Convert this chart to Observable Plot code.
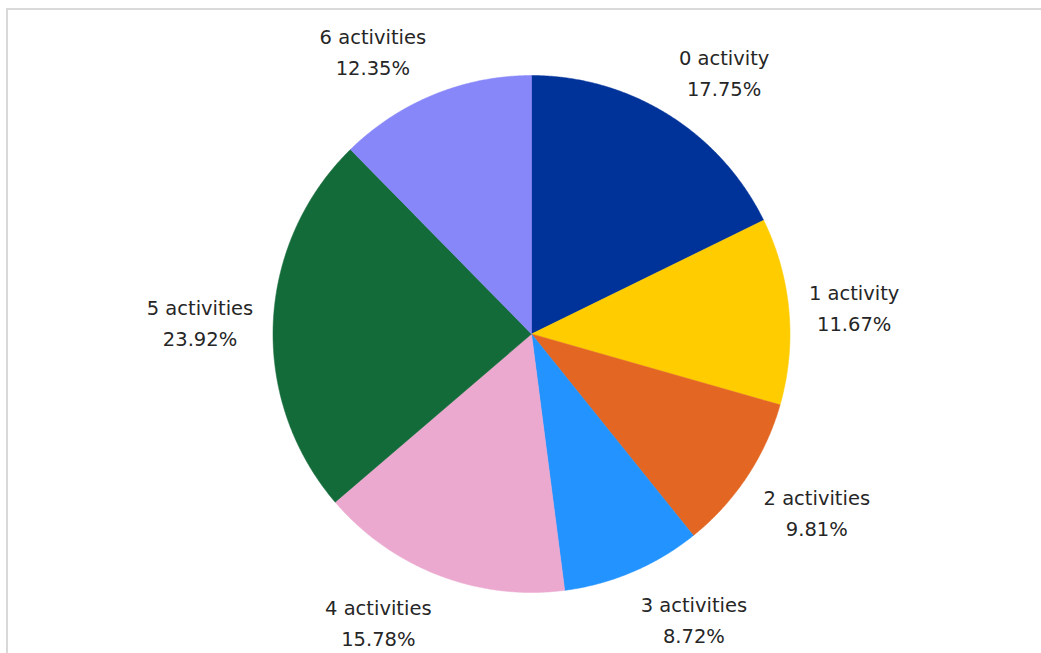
<!DOCTYPE html>
<html>
<head>
<meta charset="utf-8">
<script src="https://cdn.jsdelivr.net/npm/d3@7"></script>
<script src="https://cdn.jsdelivr.net/npm/@observablehq/plot@0.6"></script>
<style>
  html, body { margin: 0; padding: 0; background: #fff; }
  #wrap { position: relative; width: 1041px; height: 653px; overflow: hidden; }
  #frame { position: absolute; left: 6px; top: 8px; width: 1100px; height: 700px;
           border-left: 2px solid #d9d9d9; border-top: 2px solid #d9d9d9; box-sizing: border-box; }
  #chart { position: absolute; left: 0; top: 0; }
</style>
</head>
<body>
<div id="wrap"><div id="frame"></div><div id="chart"></div></div>
<script>
const categories = ["0 activity", "1 activity", "2 activities", "3 activities", "4 activities", "5 activities", "6 activities"];
const values = [17.75, 11.67, 9.81, 8.72, 15.78, 23.92, 12.35];
const labels = ["17.75%", "11.67%", "9.81%", "8.72%", "15.78%", "23.92%", "12.35%"];
const colors = ["#003399", "#FFCC00", "#E36622", "#2293FF", "#EBA9CF", "#146B3A", "#8787F9"];

const FS = 19.5;
const FAMILY = "'DejaVu Sans', sans-serif";
const W = 1041, H = 653;
const cx = 531, cy = 333.5, R = 258.5;

// slices, clockwise from 12 o'clock
const pie = d3.pie().sort(null).value(d => d.value)(categories.map((c, i) => ({key: c, value: values[i], label: labels[i]})));

const poly = [];
pie.forEach(a => {
  poly.push({key: a.data.key, x: 0, y: 0});
  const n = Math.max(2, Math.ceil((a.endAngle - a.startAngle) / 0.005));
  for (let k = 0; k <= n; k++) {
    const t = a.startAngle + (a.endAngle - a.startAngle) * k / n;
    poly.push({key: a.data.key, x: Math.sin(t), y: Math.cos(t)});
  }
  poly.push({key: a.data.key, x: 0, y: 0});
});

// label placement: anchor just outside the pie, text box pushed outward
const ctx = document.createElement("canvas").getContext("2d");
ctx.font = FS + "px " + FAMILY;
const lineH = 31;
const gap = 20 / R;
const halfH = 27;
const clamp = v => Math.max(-1, Math.min(1, v));
const labelData = pie.map(a => {
  const m = (a.startAngle + a.endAngle) / 2;
  const w = Math.max(ctx.measureText(a.data.key).width, ctx.measureText(a.data.label).width);
  const s = Math.sin(m), c = Math.cos(m);
  return {
    text: a.data.key + "\n" + a.data.label,
    x: (1 + gap) * s,
    y: (1 + gap) * c,
    dx: clamp(3 * s) * w / 2,
    dy: -clamp(1.5 * c) * halfH
  };
});

const plot = Plot.plot({
  width: W,
  height: H,
  margin: 0,
  x: {domain: [-1, 1], range: [cx - R, cx + R], axis: null},
  y: {domain: [-1, 1], range: [cy + R, cy - R], axis: null},
  color: {domain: categories, range: colors},
  style: {background: "transparent", overflow: "visible"},
  marks: [
    Plot.line(poly, {x: "x", y: "y", z: "key", fill: "key", stroke: "key", strokeWidth: 0.5, curve: "linear"}),
    ...labelData.map(d => Plot.text([d], {
      x: "x", y: "y", text: "text", dx: d.dx, dy: d.dy,
      lineHeight: lineH / FS, fontSize: FS, fill: "#262626",
      fontFamily: FAMILY, textAnchor: "middle", lineAnchor: "middle"
    }))
  ]
});
document.getElementById("chart").appendChild(plot);
</script>
</body>
</html>
